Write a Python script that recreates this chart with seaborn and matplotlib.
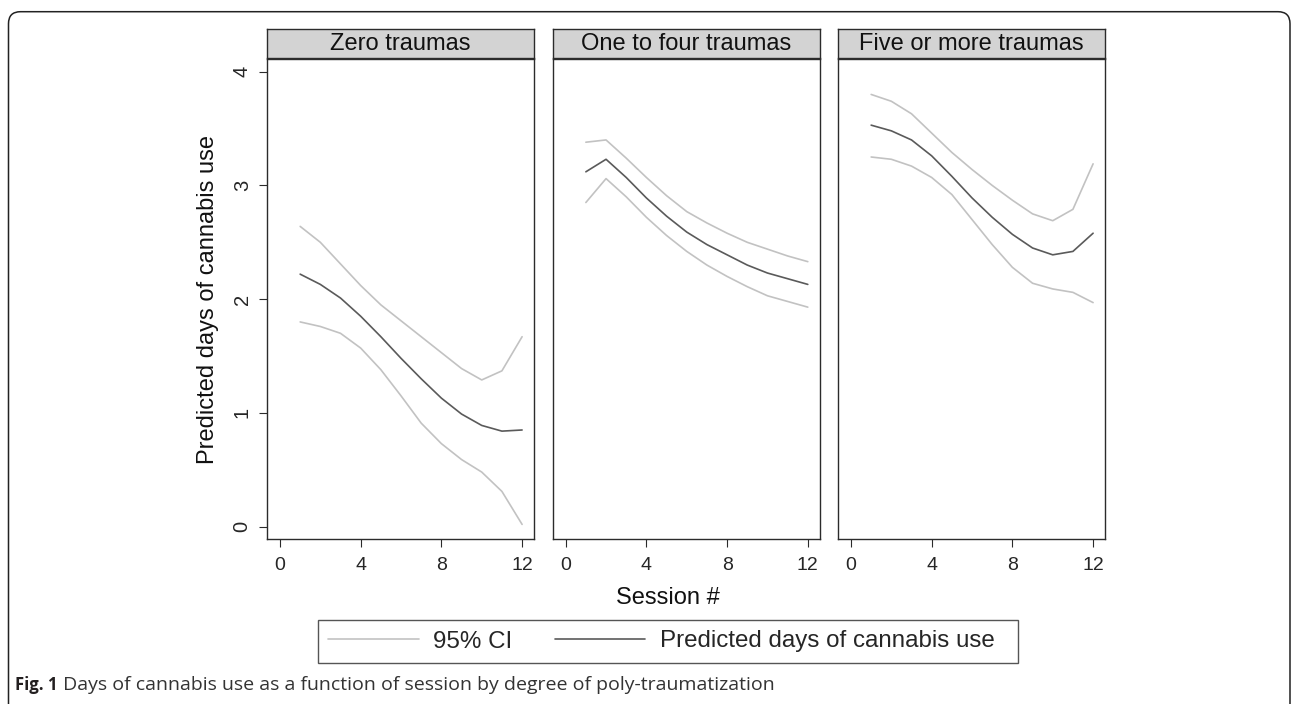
import pandas as pd
import seaborn as sns
import matplotlib.pyplot as plt
from matplotlib.lines import Line2D
from matplotlib.patches import FancyBboxPatch
from matplotlib.transforms import IdentityTransform

sns.set_style("white")
plt.rcParams['font.family'] = ['Liberation Sans', 'DejaVu Sans']

# data
sessions = list(range(1, 13))
panels = ["Zero traumas", "One to four traumas", "Five or more traumas"]

zero_lower = [1.80, 1.76, 1.70, 1.57, 1.38, 1.15, 0.91, 0.73, 0.59, 0.48, 0.31, 0.02]
zero_mean = [2.22, 2.13, 2.01, 1.85, 1.67, 1.48, 1.30, 1.13, 0.99, 0.89, 0.84, 0.85]
zero_upper = [2.64, 2.50, 2.31, 2.12, 1.95, 1.81, 1.67, 1.53, 1.39, 1.29, 1.37, 1.67]

one_lower = [2.85, 3.06, 2.90, 2.72, 2.56, 2.42, 2.30, 2.20, 2.11, 2.03, 1.98, 1.93]
one_mean = [3.12, 3.23, 3.07, 2.89, 2.73, 2.59, 2.48, 2.39, 2.30, 2.23, 2.18, 2.13]
one_upper = [3.38, 3.40, 3.24, 3.07, 2.91, 2.77, 2.67, 2.58, 2.50, 2.44, 2.38, 2.33]

five_lower = [3.25, 3.23, 3.17, 3.07, 2.92, 2.70, 2.48, 2.28, 2.14, 2.09, 2.06, 1.97]
five_mean = [3.53, 3.48, 3.40, 3.26, 3.08, 2.89, 2.72, 2.57, 2.45, 2.39, 2.42, 2.58]
five_upper = [3.80, 3.74, 3.63, 3.46, 3.29, 3.14, 3.00, 2.87, 2.75, 2.69, 2.79, 3.19]

x_ticks = [0, 4, 8, 12]
y_ticks = [0, 1, 2, 3, 4]

series = [
    (zero_lower, zero_mean, zero_upper),
    (one_lower, one_mean, one_upper),
    (five_lower, five_mean, five_upper),
]
frames = []
for name, (lo, me, up) in zip(panels, series):
    frames.append(pd.DataFrame({"session": sessions, "panel": name,
                                "lower": lo, "mean": me, "upper": up}))
df = pd.concat(frames, ignore_index=True)

ci_col = "#c2c2c2"
mean_col = "#5a5a5a"
edge = "#2b2b2b"

W, H = 1292, 704
fig = plt.figure(figsize=(W / 100, H / 100), dpi=100)

lefts = [267, 552.7, 838]
pw = 267
ax_top, ax_bot = 58.5, 539.3
strip_top = 29

for i, name in enumerate(panels):
    ax = fig.add_axes([lefts[i] / W, 1 - ax_bot / H, pw / W, (ax_bot - ax_top) / H])
    sub = df[df["panel"] == name]
    sns.lineplot(data=sub, x="session", y="lower", color=ci_col, lw=1.2, ax=ax)
    sns.lineplot(data=sub, x="session", y="upper", color=ci_col, lw=1.2, ax=ax)
    sns.lineplot(data=sub, x="session", y="mean", color=mean_col, lw=1.2, ax=ax)
    ax.set_xlim(-0.644, 12.59)
    ax.set_ylim(-0.111, 4.116)
    ax.set_xticks(x_ticks)
    ax.set_yticks(y_ticks)
    ax.set_xlabel("")
    ax.set_ylabel("")
    for s in ax.spines.values():
        s.set_visible(True)
        s.set_color(edge)
        s.set_linewidth(1.0)
    ax.tick_params(direction="out", length=6, width=0.8, color=edge,
                   labelsize=14, pad=6.5, bottom=True, left=True)
    if i == 0:
        ax.tick_params(axis="y", pad=5)
        for lab in ax.get_yticklabels():
            lab.set_rotation(90)
            lab.set_va("center")
            lab.set_fontsize(14.5)
    else:
        ax.tick_params(axis="y", left=False, labelleft=False)

    sax = fig.add_axes([lefts[i] / W, 1 - (ax_top - 0.5) / H, pw / W, (ax_top - 0.5 - strip_top) / H])
    sax.set_facecolor("#d3d3d3")
    sax.set_xticks([])
    sax.set_yticks([])
    for s in sax.spines.values():
        s.set_color(edge)
        s.set_linewidth(1.0)
    sax.text(0.5, 0.48, name, ha="center", va="center", fontsize=17, color="#111111",
             transform=sax.transAxes)

fig.text(208 / W, 1 - 300 / H, "Predicted days of cannabis use", rotation=90,
         ha="center", va="center", fontsize=17, color="#111111")
fig.text(668 / W, 1 - 598 / H, "Session #", ha="center", va="center",
         fontsize=17, color="#111111")

handles = [Line2D([], [], color=ci_col, lw=1.2), Line2D([], [], color=mean_col, lw=1.2)]
leg = fig.legend(handles, ["95% CI", "Predicted days of cannabis use  "], loc="center",
                 bbox_to_anchor=(668 / W, 1 - 641.5 / H), ncol=2, frameon=True,
                 fancybox=False, edgecolor=edge, fontsize=17.4, handlelength=3.75,
                 handletextpad=0.6, columnspacing=1.75, borderpad=0.43)
leg.get_frame().set_linewidth(1.0)

t1 = fig.text(15 / W, 1 - 685 / H, "Fig. 1", fontsize=12, fontweight="bold",
              family=["Open Sans", "DejaVu Sans"], color="#231f20", va="center")
cap_ax = fig.axes[0]
cap_ax.annotate(" Days of cannabis use as a function of session by degree of poly-traumatization",
                xy=(1, 0), xycoords=t1, va="bottom", ha="left", fontsize=14,
                family=["Open Sans", "DejaVu Sans"], color="#333333", annotation_clip=False)

frame = FancyBboxPatch((8.5, -30), 1281.5, 722.3, boxstyle="round,pad=0,rounding_size=12",
                       transform=IdentityTransform(), fill=False, ec="#222222", lw=1.1)
fig.add_artist(frame)

fig.savefig("out.png", dpi=100)
